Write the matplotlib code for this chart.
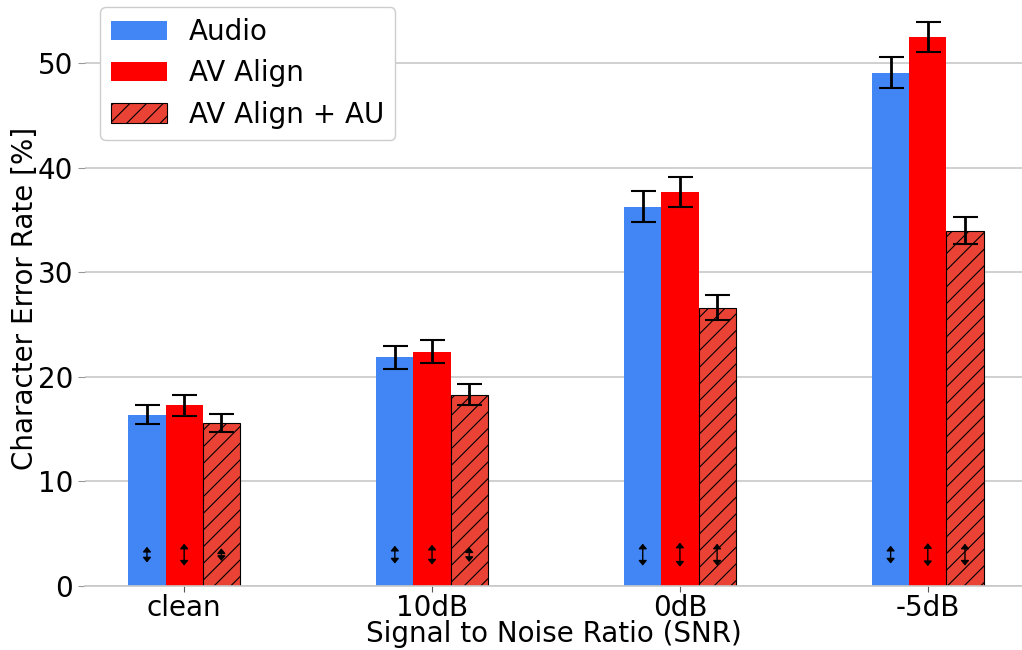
import numpy as np
import matplotlib
matplotlib.use("Agg")
import matplotlib.pyplot as plt

# data
conditions = ["clean", "10dB", "0dB", "-5dB"]
series = ["Audio", "AV Align", "AV Align + AU"]

audio = [16.4, 21.9, 36.3, 49.1]
av_align = [17.3, 22.4, 37.7, 52.5]
av_align_au = [15.6, 18.3, 26.6, 34.0]

audio_err = [0.95, 1.1, 1.45, 1.5]
av_align_err = [1.0, 1.1, 1.45, 1.45]
av_align_au_err = [0.9, 1.0, 1.2, 1.3]

# small double arrows near the bottom of each bar (half-length)
arrow_center = 3.0
audio_arrow = [0.75, 0.85, 1.05, 0.85]
av_align_arrow = [1.05, 0.95, 1.15, 1.1]
av_align_au_arrow = [0.6, 0.7, 1.05, 1.05]

colors = ["#4285F4", "#FF0000", "#EA4335"]
hatches = [None, None, "//"]

plt.rcParams["font.family"] = ["DejaVu Sans"]
plt.rcParams["hatch.linewidth"] = 0.8

fig = plt.figure(figsize=(10.22, 6.5), dpi=100)
ax = fig.add_axes([85 / 1022, 64 / 650, 1 - 85 / 1022, (586 - 10) / 650])

x = np.arange(len(conditions))
width = 0.15
values = [audio, av_align, av_align_au]
errs = [audio_err, av_align_err, av_align_au_err]
arrows = [audio_arrow, av_align_arrow, av_align_au_arrow]

for i, name in enumerate(series):
    pos = x + (i - 1) * width
    edge = "black" if hatches[i] else colors[i]
    ax.bar(pos, values[i], width, color=colors[i], hatch=hatches[i],
           edgecolor=edge, linewidth=0.8 if hatches[i] else 0, label=name,
           zorder=2)
    ax.errorbar(pos, values[i], yerr=errs[i], fmt="none", ecolor="black",
                elinewidth=2, capsize=9, capthick=1.5, zorder=3)
    for p, h in zip(pos, arrows[i]):
        ax.annotate("", xy=(p, arrow_center - h), xytext=(p, arrow_center + h),
                    arrowprops=dict(arrowstyle="<|-|>,head_length=0.24,head_width=0.2",
                                    color="black", lw=1, mutation_scale=12,
                                    shrinkA=0, shrinkB=0),
                    zorder=4)

ax.set_xlim(-0.4, 3.38)
ax.set_ylim(0, 55.1)
ax.set_xticks(x)
ax.set_xticklabels(conditions, fontsize=20)
ax.set_yticks([0, 10, 20, 30, 40, 50])
ax.tick_params(axis="y", labelsize=20, color="#999999", length=5)
ax.tick_params(axis="x", color="#555555", length=4, pad=2)
ax.set_xlabel("Signal to Noise Ratio (SNR)", fontsize=20, labelpad=-2)
ax.set_ylabel("Character Error Rate [%]", fontsize=20, labelpad=-1)

ax.yaxis.grid(True, color="#c8c8c8", linewidth=1.2, zorder=0)
ax.set_axisbelow(True)
for s in ["left", "top", "right"]:
    ax.spines[s].set_visible(False)
ax.spines["bottom"].set_color("#c8c8c8")
ax.spines["bottom"].set_linewidth(1.2)

ax.legend(loc="upper left", fontsize=20,
          bbox_to_anchor=(100 / 1022, 1 - 7 / 650),
          bbox_transform=fig.transFigure, borderaxespad=0,
          handlelength=2.0, handletextpad=0.8, borderpad=0.4,
          labelspacing=0.48, framealpha=1)

fig.savefig("out.png", dpi=100)
